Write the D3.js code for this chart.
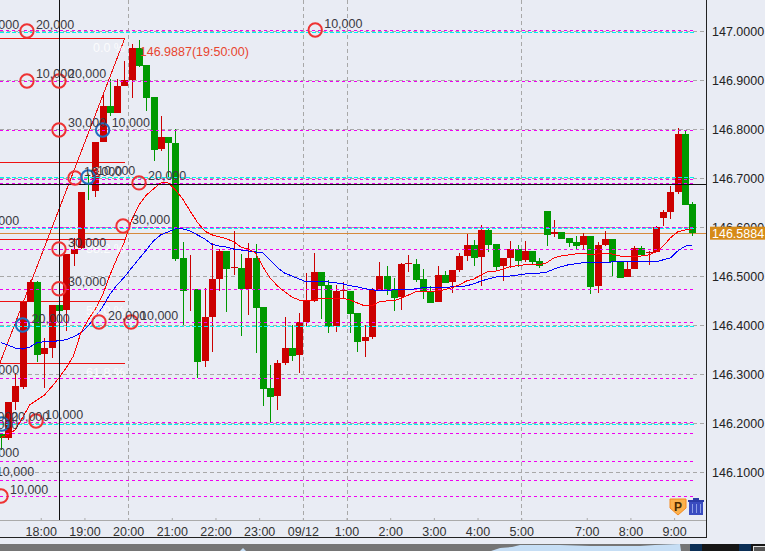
<!DOCTYPE html>
<html><head><meta charset="utf-8">
<script src="https://cdn.jsdelivr.net/npm/d3@7/dist/d3.min.js"></script>
<style>html,body{margin:0;padding:0;background:#E9ECF4;overflow:hidden}svg{display:block}text{font-family:"Liberation Sans",Arial,sans-serif;font-size:12.5px}</style>
</head><body><svg id="c" width="765" height="551"></svg>
<script>
const times=["17:00","17:10","17:20","17:30","17:40","17:50","18:00","18:10","18:20","18:30","18:40","18:50","19:00","19:10","19:20","19:30","19:40","19:50","20:00","20:10","20:20","20:30","20:40","20:50","21:00","21:10","21:20","21:30","21:40","21:50","22:00","22:10","22:20","22:30","22:40","22:50","23:00","23:10","23:20","23:30","23:40","23:50","0:00","0:10","0:20","0:30","0:40","0:50","1:00","1:10","1:20","1:30","1:40","1:50","2:00","2:10","2:20","2:30","2:40","2:50","3:00","3:10","3:20","3:30","3:40","3:50","4:00","4:10","4:20","4:30","4:40","4:50","5:00","5:10","5:20","5:30","5:40","5:50","6:30","6:40","6:50","7:00","7:10","7:20","7:30","7:40","7:50","8:00","8:10","8:20","8:30","8:40","8:50","9:00","9:10","9:20"];
const open=[146.178,146.170,146.243,146.274,146.447,146.488,146.341,146.353,146.441,146.431,146.545,146.557,146.690,146.674,146.774,146.847,146.833,146.888,146.900,146.965,146.931,146.865,146.759,146.784,146.772,146.537,146.517,146.474,146.327,146.417,146.494,146.551,146.517,146.517,146.474,146.537,146.437,146.272,146.255,146.323,146.353,146.339,146.406,146.449,146.508,146.482,146.398,146.470,146.470,146.425,146.368,146.376,146.470,146.500,146.472,146.457,146.525,146.525,146.494,146.468,146.447,146.502,146.488,146.512,146.541,146.563,146.539,146.594,146.565,146.521,146.537,146.555,146.533,146.551,146.531,146.633,146.586,146.590,146.578,146.570,146.563,146.582,146.480,146.563,146.576,146.529,146.498,146.514,146.557,146.546,146.549,146.619,146.631,146.672,146.790,146.647];
const high=[146.178,146.243,146.302,146.447,146.492,146.490,146.374,146.441,146.441,146.545,146.578,146.672,146.710,146.774,146.869,146.902,146.902,146.939,146.973,146.982,146.931,146.865,146.827,146.784,146.800,146.570,146.543,146.474,146.476,146.568,146.555,146.551,146.592,146.545,146.568,146.565,146.437,146.319,146.329,146.417,146.400,146.425,146.506,146.547,146.508,146.492,146.482,146.488,146.470,146.425,146.400,146.476,146.529,146.521,146.496,146.527,146.543,146.535,146.514,146.480,146.521,146.510,146.512,146.547,146.586,146.574,146.604,146.600,146.565,146.537,146.572,146.563,146.572,146.551,146.537,146.633,146.614,146.590,146.578,146.582,146.588,146.582,146.570,146.592,146.576,146.529,146.531,146.561,146.561,146.551,146.602,146.635,146.684,146.802,146.798,146.651];
const low=[146.145,146.166,146.227,146.270,146.447,146.325,146.272,146.333,146.429,146.388,146.521,146.555,146.655,146.661,146.774,146.827,146.833,146.888,146.863,146.927,146.837,146.735,146.755,146.702,146.531,146.400,146.429,146.292,146.315,146.345,146.470,146.427,146.502,146.378,146.421,146.343,146.235,146.200,146.227,146.319,146.327,146.302,146.396,146.447,146.412,146.384,146.386,146.455,146.384,146.345,146.335,146.372,146.470,146.461,146.429,146.431,146.508,146.488,146.453,146.445,146.447,146.486,146.465,146.508,146.531,146.521,146.480,146.549,146.510,146.490,146.517,146.519,146.529,146.525,146.517,146.561,146.580,146.576,146.559,146.555,146.555,146.463,146.465,146.561,146.500,146.496,146.498,146.514,146.543,146.523,146.549,146.602,146.616,146.667,146.645,146.582];
const close=[146.170,146.243,146.276,146.447,146.488,146.339,146.353,146.441,146.429,146.545,146.555,146.672,146.688,146.774,146.847,146.833,146.888,146.900,146.965,146.929,146.863,146.757,146.784,146.772,146.535,146.470,146.517,146.325,146.417,146.494,146.551,146.514,146.519,146.474,146.537,146.435,146.270,146.253,146.323,146.353,146.337,146.406,146.449,146.508,146.480,146.396,146.470,146.472,146.423,146.366,146.376,146.472,146.500,146.472,146.455,146.525,146.527,146.492,146.468,146.445,146.502,146.486,146.512,146.541,146.563,146.537,146.594,146.563,146.519,146.537,146.555,146.531,146.551,146.529,146.521,146.584,146.590,146.576,146.568,146.561,146.582,146.478,146.563,146.576,146.529,146.496,146.514,146.557,146.543,146.549,146.600,146.631,146.672,146.790,146.645,146.5884];
const candleUp=["g","r","r","r","r","g","r","r","g","r","r","r","g","r","r","g","r","r","r","g","g","g","r","g","g","g","r","g","r","r","r","g","r","g","r","g","g","g","r","r","g","r","r","r","g","g","r","r","g","g","r","r","r","g","g","r","r","g","g","g","r","g","r","r","r","g","r","g","g","r","r","g","r","g","g","g","r","g","g","g","r","g","r","r","g","g","r","r","g","r","r","r","r","r","g","g"];
const maFast=[146.170,146.176,146.186,146.211,146.237,146.247,146.257,146.274,146.292,146.313,146.337,146.384,146.410,146.433,146.461,146.502,146.537,146.570,146.614,146.645,146.665,146.678,146.690,146.690,146.676,146.657,146.633,146.610,146.592,146.584,146.580,146.576,146.570,146.559,146.555,146.547,146.519,146.496,146.480,146.468,146.457,146.451,146.449,146.451,146.455,146.455,146.455,146.455,146.451,146.445,146.439,146.439,146.447,146.449,146.449,146.455,146.461,146.468,146.468,146.468,146.470,146.472,146.476,146.482,146.490,146.494,146.502,146.510,146.510,146.514,146.519,146.521,146.523,146.523,146.523,146.527,146.537,146.541,146.543,146.545,146.547,146.543,146.545,146.547,146.545,146.541,146.539,146.539,146.541,146.543,146.549,146.561,146.578,146.590,146.594,146.596];
const maSlow=[146.364,146.359,146.353,146.351,146.355,146.364,146.366,146.366,146.368,146.370,146.376,146.384,146.398,146.417,146.437,146.463,146.482,146.498,146.517,146.535,146.553,146.572,146.584,146.590,146.596,146.596,146.592,146.584,146.576,146.565,146.561,146.559,146.555,146.553,146.551,146.549,146.547,146.533,146.517,146.506,146.500,146.494,146.488,146.488,146.488,146.488,146.486,146.484,146.480,146.478,146.474,146.472,146.470,146.470,146.472,146.472,146.472,146.474,146.476,146.476,146.476,146.476,146.478,146.478,146.480,146.484,146.490,146.494,146.498,146.498,146.500,146.502,146.504,146.506,146.506,146.508,146.514,146.519,146.523,146.525,146.527,146.527,146.527,146.527,146.529,146.529,146.529,146.529,146.529,146.529,146.529,146.533,146.537,146.551,146.561,146.563];
const gridPrices=[147.0,146.9,146.8,146.7,146.6,146.5,146.4,146.3,146.2,146.1];
const gridTimes=["20:00","0:00","1:00","5:00"];
const tickTimes=["18:00","19:00","20:00","21:00","22:00","23:00","0:00","1:00","2:00","3:00","4:00","5:00","7:00","8:00","9:00"];
const tickLabels=["18:00","19:00","20:00","21:00","22:00","23:00","09/12","1:00","2:00","3:00","4:00","5:00","7:00","8:00","9:00"];
const magentaLevels=[147.002,146.898,146.798,146.698,146.689,146.600,146.555,146.474,146.406,146.292,146.203,146.180,146.123,146.084,146.051];
const cyanLevels=[146.998,146.702,146.598,146.398,146.198];
const lastPrice=146.5884, crossPrice=146.688, crossTime="18:20";
const fibPrices=[146.986,146.733,146.576,146.449,146.323];
const fibLabels=["0.0 %","23.6 %","38.2 %","50.0 %","61.8 %"];
const fibEndBar=17.07, fibStartBar=-0.1, highLabel="146.9887(19:50:00)", highBar=19.1, highLabelPrice=146.948;
const markBars=[-3.95,3.6,43.2,3.6,8,8,14,10.2,12,19,16.8,-3.95,8,8,3,13.5,17.9,-3.95,4.85,0.18,-4.08,-4.08,-3.95,-1.9,0.04];
const markPrices=[147.000,147.000,147.002,146.898,146.898,146.798,146.798,146.700,146.702,146.690,146.602,146.600,146.555,146.474,146.400,146.406,146.406,146.294,146.204,146.198,146.200,146.182,146.125,146.086,146.051];
const markLabels=["20,000","20,000","10,000","10,000","20,000","30,000","10,000","10,000","10,000","20,000","30,000","20,000","30,000","30,000","20,000","20,000","10,000","20,000","10,000","20,000","30,000","10,000","10,000","10,000","10,000"];
const markKinds=["s","s","s","s","s","s","b","s","b","s","s","s","s","s","b","s","s","s","s","b","s","s","s","s","s"];

const W=765,H=551,plotR=706,axisY=520,frameB=537;
const BG="#E9ECF4",RED="#CC0000",GREEN="#009900";
const svg=d3.select("#c");
const x=d3.scaleLinear().domain([0,times.length-1]).range([0.72,692.3]);
const y=d3.scaleLinear().domain([146.1,147]).range([472,31]);
const barAt=t=>times.indexOf(t);
svg.append("rect").attr("width",W).attr("height",H).attr("fill",BG);

// grid
const crisp=g=>g.attr("shape-rendering","crispEdges");
const grid=svg.append("g").call(crisp);
grid.selectAll(".h").data(gridPrices).join("line").attr("x1",0).attr("x2",plotR)
  .attr("y1",d=>Math.round(y(d))+.5).attr("y2",d=>Math.round(y(d))+.5).attr("stroke","#A8A8A8").attr("stroke-dasharray","4,3");
grid.selectAll(".v").data(gridTimes).join("line").attr("y1",0).attr("y2",axisY)
  .attr("x1",d=>Math.round(x(barAt(d)-.5))+.5).attr("x2",d=>Math.round(x(barAt(d)-.5))+.5).attr("stroke","#A8A8A8").attr("stroke-dasharray","4,3");

// orange last line
svg.append("line").call(crisp).attr("x1",0).attr("x2",plotR).attr("y1",Math.round(y(lastPrice))+.5).attr("y2",Math.round(y(lastPrice))+.5).attr("stroke","#D68A3C");

// fib
const fib=svg.append("g");
fib.append("g").call(crisp).selectAll("line").data(fibPrices).join("line").attr("x1",0).attr("x2",x(fibEndBar))
  .attr("y1",d=>Math.round(y(d))+.5).attr("y2",d=>Math.round(y(d))+.5).attr("stroke","#EE1111");
fib.append("line").call(crisp).attr("x1",x(fibEndBar)).attr("y1",y(fibPrices[0])).attr("x2",x(fibStartBar)).attr("y2",y(fibPrices[4])).attr("stroke","#EE1111").attr("stroke-width",1);

// candles
const idx=d3.range(times.length);
const cg=svg.append("g").call(crisp);
cg.selectAll(".w").data(idx).join("rect").attr("x",i=>Math.round(x(i))).attr("width",1)
  .attr("y",i=>y(high[i])).attr("height",i=>y(low[i])-y(high[i])).attr("fill",i=>candleUp[i]=="r"?RED:GREEN);
cg.selectAll(".b").data(idx.filter(i=>open[i]!==close[i])).join("rect").attr("x",i=>Math.round(x(i))-3).attr("width",7)
  .attr("y",i=>y(Math.max(open[i],close[i]))).attr("height",i=>Math.max(1,Math.abs(y(open[i])-y(close[i]))))
  .attr("fill",i=>candleUp[i]=="r"?RED:GREEN);

// levels
const lv=svg.append("g").call(crisp);
lv.selectAll(".c").data(cyanLevels).join("line").attr("x1",0).attr("x2",x(95.5)).attr("y1",d=>Math.round(y(d))+.5).attr("y2",d=>Math.round(y(d))+.5).attr("stroke","#00F0F0").attr("stroke-dasharray","4,2");
lv.selectAll(".m").data(magentaLevels).join("line").attr("x1",0).attr("x2",x(95.5)).attr("y1",d=>Math.round(y(d))+.5).attr("y2",d=>Math.round(y(d))+.5).attr("stroke","#F000F0").attr("stroke-dasharray","3,3");

// moving averages
const lineGen=d3.line().x((d,i)=>x(i)).y(d=>y(d));
svg.append("path").call(crisp).attr("d",lineGen(maSlow)).attr("fill","none").attr("stroke","#0000FF").attr("stroke-width",1);
svg.append("path").call(crisp).attr("d",lineGen(maFast)).attr("fill","none").attr("stroke","#FF0000").attr("stroke-width",1);

// black cross
svg.append("line").call(crisp).attr("x1",0).attr("x2",plotR).attr("y1",Math.round(y(crossPrice))+.5).attr("y2",Math.round(y(crossPrice))+.5).attr("stroke","#111");
svg.append("line").call(crisp).attr("x1",Math.round(x(barAt(crossTime)))+.5).attr("x2",Math.round(x(barAt(crossTime)))+.5).attr("y1",0).attr("y2",axisY).attr("stroke","#111");

// fib labels
svg.append("g").selectAll("text").data(fibPrices).join("text").attr("x",x(fibEndBar)).attr("y",d=>y(d)+14).attr("text-anchor","end").attr("fill","#fff").attr("fill-opacity",.85).text((d,i)=>fibLabels[i]);

// markers
const mg=svg.append("g");
mg.selectAll("circle").data(markBars).join("circle").attr("cx",d=>x(d)).attr("cy",(d,i)=>y(markPrices[i])).attr("r",6.7)
  .attr("fill","none").attr("stroke",(d,i)=>markKinds[i]=="b"?"#1F6FBF":"#EE3333").attr("stroke-width",2);
mg.selectAll("text").data(markBars).join("text").attr("x",d=>x(d)+9).attr("y",(d,i)=>y(markPrices[i])-2.5).attr("fill","#3A3A44").text((d,i)=>markLabels[i]);

// high label
svg.append("text").attr("x",x(highBar)).attr("y",y(highLabelPrice)).attr("fill","#E8452E").text(highLabel);

// axes
const yAxis=d3.axisRight(y).tickValues(gridPrices).tickFormat(d3.format(".4f")).tickSize(0).tickPadding(6);
const ya=svg.append("g").attr("transform",`translate(${plotR},0)`).call(yAxis);
ya.select(".domain").remove();
ya.selectAll("text").attr("fill","#222").style("font-size","12.5px").style("font-family",'"Liberation Sans",Arial,sans-serif');
const xAxis=d3.axisBottom(x).tickValues(tickTimes.map(t=>barAt(t)-.5)).tickFormat((d,i)=>tickLabels[i]).tickSize(0).tickPadding(7);
const xa=svg.append("g").attr("transform",`translate(0,${axisY})`).call(xAxis);
xa.select(".domain").remove();
xa.selectAll("text").attr("fill","#333").style("font-size","12.5px").style("font-family",'"Liberation Sans",Arial,sans-serif');
xa.selectAll(".tick line").attr("y1",-2).attr("y2",0).attr("stroke","#AAA");

svg.append("line").call(crisp).attr("x1",0).attr("x2",plotR).attr("y1",axisY+.5).attr("y2",axisY+.5).attr("stroke","#AAAAAA");
svg.append("line").call(crisp).attr("x1",plotR+.5).attr("x2",plotR+.5).attr("y1",0).attr("y2",frameB+1).attr("stroke","#222");
svg.append("line").call(crisp).attr("x1",0).attr("x2",plotR+1).attr("y1",frameB+.5).attr("y2",frameB+.5).attr("stroke","#222");

// last price tag
const tag=svg.append("g");
tag.append("rect").attr("x",710).attr("y",y(lastPrice)-6).attr("width",55).attr("height",13).attr("fill","#D68A17");
tag.append("text").attr("x",712).attr("y",y(lastPrice)+5).attr("fill","#fff").text(d3.format(".4f")(lastPrice));

// icons
const ic=svg.append("g");
ic.append("path").attr("d","M670 499H686V508L678 515L670 508Z").attr("fill","#FBB04C").attr("stroke","#F58A1F");
ic.append("text").attr("x",678).attr("y",511).attr("text-anchor","middle").attr("fill","#4A2A00").style("font-weight","bold").style("font-size","12px").text("P");
ic.append("rect").attr("x",689).attr("y",502).attr("width",14).attr("height",13).attr("fill","#3A4CC0");
ic.append("rect").attr("x",688).attr("y",500).attr("width",16).attr("height",2).attr("fill","#2B3BA8");
ic.append("rect").attr("x",693).attr("y",498).attr("width",6).attr("height",2).attr("fill","#2B3BA8");
[692,696,700].forEach(px=>ic.append("rect").attr("x",px).attr("y",504).attr("width",1).attr("height",9).attr("fill","#8FA0E8"));

// bottom strip
const strip=svg.append("g");
strip.append("rect").attr("x",0).attr("y",544).attr("width",W).attr("height",7).attr("fill","#757575");
strip.append("path").attr("d","M491 551L500 548L512 547L520 545L560 545L590 546L610 546L640 546L655 545L680 544L681 551Z").attr("fill","#C6DEF5");
strip.append("path").attr("d","M240 551L243 548L246 551Z").attr("fill","#C6DEF5");
strip.append("rect").attr("x",690).attr("y",544).attr("width",75).attr("height",7).attr("fill","#161616");
strip.append("rect").attr("x",690).attr("y",544).attr("width",12).attr("height",7).attr("fill","#0B2E55");
strip.append("rect").attr("x",739).attr("y",544).attr("width",12).attr("height",7).attr("fill","#0B2E55");
strip.append("rect").attr("x",753.5).attr("y",546.5).attr("width",12).attr("height",6).attr("fill","#555").attr("stroke","#ddd");
</script></body></html>
